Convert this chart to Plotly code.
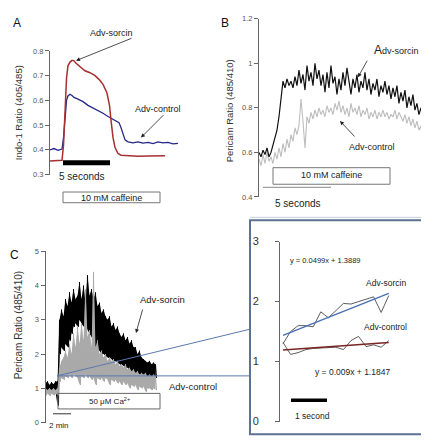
import numpy as np
import plotly.graph_objects as go

W, H = 429, 441
FONT = "Liberation Sans, Arial, sans-serif"

# ---------------- Panel A data (time in s, Indo-1 ratio) ----------------
a_sorcin_t = [0, 0.64, 1.28, 1.44, 1.54, 1.65, 1.76, 1.91, 2.13, 2.34, 2.55, 2.77, 3.19, 3.72, 4.26,
              4.79, 5.21, 5.64, 6.06, 6.33, 6.49, 6.70, 6.91, 7.23, 7.55, 8.30, 9.36, 10.43, 11.49, 12.23]
a_sorcin_v = [0.355, 0.356, 0.358, 0.42, 0.52, 0.62, 0.69, 0.74, 0.755, 0.762, 0.76, 0.75, 0.735, 0.72, 0.712,
              0.70, 0.685, 0.665, 0.63, 0.58, 0.52, 0.45, 0.41, 0.385, 0.378, 0.376, 0.374, 0.375, 0.374, 0.376]
a_control_t = [0, 0.43, 0.85, 1.28, 1.44, 1.60, 1.76, 1.91, 2.13, 2.34, 2.55, 2.98, 3.51, 4.04, 4.57, 5.11,
               5.64, 6.17, 6.60, 7.02, 7.34, 7.55, 7.77, 7.98, 8.30, 8.83, 9.36, 9.89, 10.43, 10.96, 11.49,
               12.02, 12.55, 13.09, 13.62]
a_control_v = [0.40, 0.405, 0.398, 0.403, 0.45, 0.54, 0.60, 0.618, 0.625, 0.62, 0.612, 0.605, 0.595, 0.58,
               0.57, 0.56, 0.548, 0.535, 0.525, 0.515, 0.51, 0.49, 0.465, 0.44, 0.432, 0.428, 0.432, 0.427,
               0.43, 0.425, 0.432, 0.428, 0.43, 0.424, 0.426]
a_ticks = [0.3, 0.4, 0.5, 0.6, 0.7, 0.8]

# ---------------- Panel B data (Pericam ratio, sampled every DT_B s) ----------------
DT_B = 0.147
b_sorcin_v = [0.60, 0.58, 0.61, 0.59, 0.62, 0.58, 0.60, 0.63, 0.66, 0.70,
              0.76, 0.84, 0.92, 0.89, 0.93, 0.90, 0.92, 0.89, 0.94, 0.90,
              0.97, 0.91, 0.95, 0.88, 0.99, 0.92, 0.96, 0.90, 1.00, 0.93,
              0.97, 0.90, 0.95, 0.87, 0.96, 0.89, 0.99, 0.91, 0.94, 0.86,
              0.93, 0.88, 0.96, 0.90, 0.98, 0.92, 0.86, 0.93, 0.89, 0.95,
              0.87, 0.92, 0.89, 0.96, 0.88, 0.93, 0.86, 0.91, 0.88, 0.93,
              0.85, 0.90, 0.87, 0.92, 0.86, 0.90, 0.84, 0.89, 0.85, 0.90,
              0.82, 0.87, 0.83, 0.88, 0.80, 0.85, 0.81, 0.86, 0.79, 0.82,
              0.77, 0.80, 0.75, 0.78, 0.72, 0.74, 0.71]
b_control_v = [0.57, 0.54, 0.59, 0.55, 0.60, 0.56, 0.58, 0.55, 0.60, 0.57,
               0.62, 0.58, 0.64, 0.60, 0.66, 0.62, 0.68, 0.65, 0.71, 0.68,
               0.72, 0.84, 0.74, 0.62, 0.76, 0.73, 0.78, 0.75, 0.79, 0.76,
               0.80, 0.77, 0.79, 0.76, 0.81, 0.78, 0.80, 0.77, 0.82, 0.79,
               0.83, 0.78, 0.81, 0.77, 0.80, 0.76, 0.82, 0.78, 0.80, 0.77,
               0.81, 0.76, 0.79, 0.77, 0.80, 0.75, 0.78, 0.76, 0.79, 0.75,
               0.78, 0.76, 0.79, 0.76, 0.78, 0.75, 0.77, 0.76, 0.79, 0.75,
               0.78, 0.76, 0.74, 0.77, 0.73, 0.76, 0.72, 0.75, 0.71, 0.74,
               0.70, 0.72, 0.64, 0.71, 0.69, 0.72]
b_ticks = [0.4, 0.6, 0.8, 1.0, 1.2]
b_ticktext = ["0.4", "0.6", "0.8", "1", "1.2"]

# ---------------- Panel C data (min; upper / lower excursions, every DT_C min) ----------------
DT_C = 2 / 9
c_sorcin_hi = [1.15, 1.2, 1.1, 1.18, 1.12, 1.2, 1.2, 3.0, 3.3, 3.1,
               3.6, 3.4, 3.8, 3.5, 3.9, 3.6, 3.7, 4.1, 3.6, 4.0,
               3.5, 4.3, 3.7, 3.9, 3.6, 3.8, 3.4, 3.5, 3.2, 3.3,
               3.1, 3.0, 3.1, 2.8, 2.9, 2.7, 2.8, 2.6, 2.5, 2.6,
               2.4, 2.5, 2.3, 2.4, 2.2, 2.2, 2.0, 2.1, 1.9, 1.85,
               1.8, 1.75, 1.8, 1.7, 1.75, 1.7]
c_sorcin_lo = [0.95, 0.9, 0.95, 0.92, 0.95, 0.9, 0.5, 2.0, 2.2, 2.1,
               2.3, 2.2, 2.4, 2.6, 2.8, 2.9, 2.8, 3.0, 2.9, 2.8,
               2.9, 2.7, 2.6, 2.5, 2.4, 2.2, 2.1, 2.1, 2.0, 2.0,
               1.95, 1.9, 1.9, 1.85, 1.8, 1.8, 1.75, 1.7, 1.7, 1.65,
               1.6, 1.6, 1.55, 1.5, 1.5, 1.45, 1.45, 1.4, 1.4, 1.35,
               1.35, 1.3, 1.3, 1.3, 1.25, 1.3]
c_control_hi = [1.0, 0.95, 1.0, 0.95, 1.0, 0.95, 1.0, 1.6, 1.8, 1.9,
                2.1, 1.9, 2.3, 2.0, 2.6, 2.2, 2.8, 2.3, 2.9, 2.4,
                3.9, 2.5, 2.7, 2.2, 4.4, 2.2, 2.4, 2.0, 2.1, 1.9,
                2.0, 1.8, 1.9, 1.8, 1.85, 1.7, 1.8, 1.65, 1.7, 1.6,
                1.7, 1.55, 1.6, 1.5, 1.55, 1.45, 1.5, 1.4, 1.45, 1.4,
                1.45, 1.35, 1.4, 1.35, 1.4, 1.35]
c_control_lo = [0.8, 0.85, 0.78, 0.85, 0.8, 0.85, 0.8, 1.2, 1.3, 1.25,
                1.35, 1.3, 1.4, 1.3, 1.4, 1.35, 1.3, 1.1, 1.35, 1.3,
                1.4, 1.3, 1.35, 1.25, 1.3, 1.1, 1.3, 1.25, 1.3, 1.2,
                1.3, 1.25, 1.1, 1.25, 1.2, 1.25, 1.15, 1.2, 1.1, 1.2,
                1.1, 1.15, 1.0, 1.1, 1.05, 1.1, 0.95, 1.05, 1.0, 1.05,
                0.9, 1.0, 1.0, 0.95, 1.0, 0.95]
c_ticks = [0, 1, 2, 3, 4, 5]

# ---------------- Inset data (sample index, ratio) ----------------
inset_x = list(range(1, 16))
inset_sorcin = [1.30, 1.50, 1.60, 1.60, 1.58, 1.83, 1.73, 1.85, 1.97, 1.96, 2.00, 2.03, 2.08, 1.82, 2.10]
inset_control = [1.32, 1.12, 1.15, 1.20, 1.22, 1.23, 1.24, 1.24, 1.20, 1.35, 1.42, 1.25, 1.28, 1.24, 1.35]
fit_sorcin = (0.0499, 1.3889)
fit_control = (0.009, 1.1847)
inset_ticks = [0, 1, 2, 3]


def interleave(hi, lo, dt):
    t, v = [], []
    for i, (h, l) in enumerate(zip(hi, lo)):
        t += [i * dt, i * dt + dt / 2]
        v += [h, l]
    return t, v


def band(hi, lo, dt):
    t = [i * dt for i in range(len(hi))]
    return t + t[::-1], list(hi) + list(lo)[::-1]


def px(x):
    return x / W


def py(y):
    return 1 - y / H


fig = go.Figure()

# Panel A
fig.add_trace(go.Scatter(x=a_control_t, y=a_control_v, mode="lines",
                         line=dict(color="#27278a", width=1.3), xaxis="x", yaxis="y"))
fig.add_trace(go.Scatter(x=a_sorcin_t, y=a_sorcin_v, mode="lines",
                         line=dict(color="#a83030", width=1.5), xaxis="x", yaxis="y"))

# Panel B
tb_c = np.arange(len(b_control_v)) * DT_B
tb_s = np.arange(len(b_sorcin_v)) * DT_B
fig.add_trace(go.Scatter(x=tb_c, y=b_control_v, mode="lines",
                         line=dict(color="#bdbdbd", width=1.1), xaxis="x2", yaxis="y2"))
fig.add_trace(go.Scatter(x=tb_s, y=b_sorcin_v, mode="lines",
                         line=dict(color="#111111", width=1.2), xaxis="x2", yaxis="y2"))

# Panel C: sorcin (black) band + jagged trace, then control (grey) on top
bx, by = band(c_sorcin_hi, c_sorcin_lo, DT_C)
fig.add_trace(go.Scatter(x=bx, y=by, mode="lines", fill="toself", fillcolor="#000000",
                         line=dict(width=0, color="#000000"), xaxis="x3", yaxis="y3"))
ts, vs = interleave(c_sorcin_hi, c_sorcin_lo, DT_C)
fig.add_trace(go.Scatter(x=ts, y=vs, mode="lines",
                         line=dict(color="#000000", width=1), xaxis="x3", yaxis="y3"))
gx, gy = band(c_control_hi, c_control_lo, DT_C)
fig.add_trace(go.Scatter(x=gx, y=gy, mode="lines", fill="toself", fillcolor="#aaaaaa",
                         line=dict(width=0, color="#aaaaaa"), xaxis="x3", yaxis="y3"))
tc, vc = interleave(c_control_hi, c_control_lo, DT_C)
fig.add_trace(go.Scatter(x=tc, y=vc, mode="lines",
                         line=dict(color="#aaaaaa", width=1), xaxis="x3", yaxis="y3"))

# Inset
fig.add_trace(go.Scatter(x=inset_x, y=inset_sorcin, mode="lines",
                         line=dict(color="#333333", width=0.8), xaxis="x4", yaxis="y4"))
fig.add_trace(go.Scatter(x=inset_x, y=inset_control, mode="lines",
                         line=dict(color="#333333", width=0.8), xaxis="x4", yaxis="y4"))
xf = [inset_x[0], inset_x[-1]]
fig.add_trace(go.Scatter(x=xf, y=[fit_sorcin[0] * v + fit_sorcin[1] for v in xf], mode="lines",
                         line=dict(color="#4a6fb5", width=1.4), xaxis="x4", yaxis="y4"))
fig.add_trace(go.Scatter(x=xf, y=[fit_control[0] * v + fit_control[1] for v in xf], mode="lines",
                         line=dict(color="#7a2424", width=1.4), xaxis="x4", yaxis="y4"))

tickfont = dict(family=FONT, size=7.5, color="#555555")
yax_common = dict(showline=True, linecolor="#666666", linewidth=1, ticks="outside", ticklen=4,
                  tickcolor="#666666", tickfont=tickfont, showgrid=False, zeroline=False, fixedrange=True)
xhidden = dict(visible=False, fixedrange=True)

fig.update_layout(
    width=W, height=H, margin=dict(l=0, r=0, t=0, b=0), autosize=False,
    paper_bgcolor="white", plot_bgcolor="rgba(0,0,0,0)", showlegend=False,
    xaxis=dict(domain=[px(42), px(175)], range=[0, (175 - 42) / 9.4], anchor="y", **xhidden),
    yaxis=dict(domain=[py(165), py(38)], range=[0.3, 0.8], anchor="x", tickvals=a_ticks,
               ticktext=["%.1f" % v for v in a_ticks], **yax_common),
    xaxis2=dict(domain=[px(251), px(429)], range=[0, 178 / 13.6], anchor="y2", **xhidden),
    yaxis2=dict(domain=[py(188), py(5)], range=[0.4, 1.2], anchor="x2", tickvals=b_ticks,
                ticktext=b_ticktext, **yax_common),
    xaxis3=dict(domain=[px(37.5), px(160)], range=[0, 122.5 / 9], anchor="y3", **xhidden),
    yaxis3=dict(domain=[py(420), py(244)], range=[0, 5], anchor="x3", tickvals=c_ticks, **yax_common),
    xaxis4=dict(domain=[px(272), px(426)], range=[0.6, 0.6 + 154 / 7.55], anchor="y4", **xhidden),
    yaxis4=dict(domain=[py(419), py(234)], range=[0, 3], anchor="x4", tickvals=inset_ticks,
                ticklabelstandoff=14,
                **{**yax_common, "tickfont": dict(family=FONT, size=11, color="#333333"), "ticklen": 4}),
)

shapes = []
# Panel A: 5 s bar and caffeine box
shapes.append(dict(type="line", xref="x", yref="y", x0=(55 - 42) / 9.4, x1=(55 - 42) / 9.4 + 5,
                   y0=0.348, y1=0.348, line=dict(color="black", width=5)))
shapes.append(dict(type="rect", xref="paper", yref="paper", x0=px(55), x1=px(152), y0=py(194), y1=py(183),
                   line=dict(color="#777777", width=1)))
# Panel B: caffeine box, 5 s line, bottom rule
shapes.append(dict(type="rect", xref="paper", yref="paper", x0=px(265), x1=px(382), y0=py(175), y1=py(158),
                   line=dict(color="#777777", width=1)))
shapes.append(dict(type="line", xref="x2", yref="y2", x0=(255 - 251) / 13.6, x1=(255 - 251) / 13.6 + 5,
                   y0=0.443, y1=0.443, line=dict(color="#888888", width=1)))
shapes.append(dict(type="line", xref="paper", yref="paper", x0=px(242), x1=px(428), y0=py(209), y1=py(209),
                   line=dict(color="#c5d0de", width=1)))
# Panel C: Ca box, 2 min bar
shapes.append(dict(type="rect", xref="paper", yref="paper", x0=px(50), x1=px(152), y0=py(406), y1=py(390),
                   line=dict(color="#666666", width=1)))
shapes.append(dict(type="line", xref="x3", yref="y3", x0=(45 - 37.5) / 9, x1=(45 - 37.5) / 9 + 2,
                   y0=0.256, y1=0.256, line=dict(color="#333333", width=1)))
# connector lines to inset
shapes.append(dict(type="line", xref="paper", yref="paper", x0=px(49), x1=px(242), y0=py(372), y1=py(372),
                   line=dict(color="#5b79ad", width=1)))
shapes.append(dict(type="line", xref="paper", yref="paper", x0=px(49), x1=px(242), y0=py(372), y1=py(324),
                   line=dict(color="#5b79ad", width=1)))
# inset frame and scale bar
shapes.append(dict(type="rect", xref="paper", yref="paper", x0=px(242), x1=px(428), y0=py(432), y1=py(212),
                   line=dict(color="#5d7193", width=2)))
shapes.append(dict(type="line", xref="paper", yref="paper", x0=px(283), x1=px(319), y0=py(397), y1=py(397),
                   line=dict(color="black", width=3.5)))
fig.update_layout(shapes=shapes)


def txt(x, y, s, size=8, color="#222222", angle=0):
    return dict(x=px(x), y=py(y), xref="paper", yref="paper", text=s, showarrow=False, textangle=angle,
                font=dict(family=FONT, size=size, color=color), xanchor="center", yanchor="middle")


def arrow(tipx, tipy, tailx, taily):
    return dict(x=px(tipx), y=py(tipy), xref="paper", yref="paper", ax=tailx - tipx, ay=taily - tipy,
                text="", showarrow=True, arrowhead=2, arrowsize=1, arrowwidth=0.8, arrowcolor="#222222")


ann = [
    txt(9, 9, "A", 12, "#111111"),
    txt(10, 102, "Indo-1 Ratio (405/485)", 9.5, "#333333", -90),
    txt(103, 20, "Adv-sorcin", 9),
    txt(150, 98, "Adv-control", 9),
    txt(74, 167, "5 seconds", 10),
    txt(103, 189, "10 mM caffeine", 9),
    arrow(68, 48, 125, 25),
    arrow(133, 127, 157, 103),

    txt(217, 9, "B", 12, "#111111"),
    txt(221, 100, "Pericam Ratio (485/410)", 9.5, "#333333", -90),
    txt(388, 37, "<span style='font-size:12px'>A</span>dv-sorcin", 9),
    txt(364, 137, "Adv-control", 9),
    txt(323, 166, "10 mM caffeine", 9),
    txt(290, 195, "5 seconds", 10),
    arrow(350, 65, 360, 47),
    arrow(332, 110, 348, 127),

    txt(6, 248, "C", 12, "#111111"),
    txt(10, 320, "Pericam Ratio (485/410)", 10, "#333333", -90),
    txt(154, 293, "Adv-sorcin", 9.5),
    txt(185, 383, "Adv-control", 9.5),
    txt(101, 398, "50 μM Ca<sup>2+</sup>", 8),
    txt(51, 423, "2 min", 8),
    arrow(128, 328, 135, 303),

    txt(317, 253, "y = 0.0499x + 1.3889", 7.5),
    txt(378, 277, "Adv-sorcin", 8.5),
    txt(377, 322, "Adv-control", 8.5),
    txt(344, 368, "y = 0.009x + 1.1847", 8.5),
    txt(304, 413, "1 second", 8.5),
]
fig.update_layout(annotations=ann)

fig.write_html("out.html")
